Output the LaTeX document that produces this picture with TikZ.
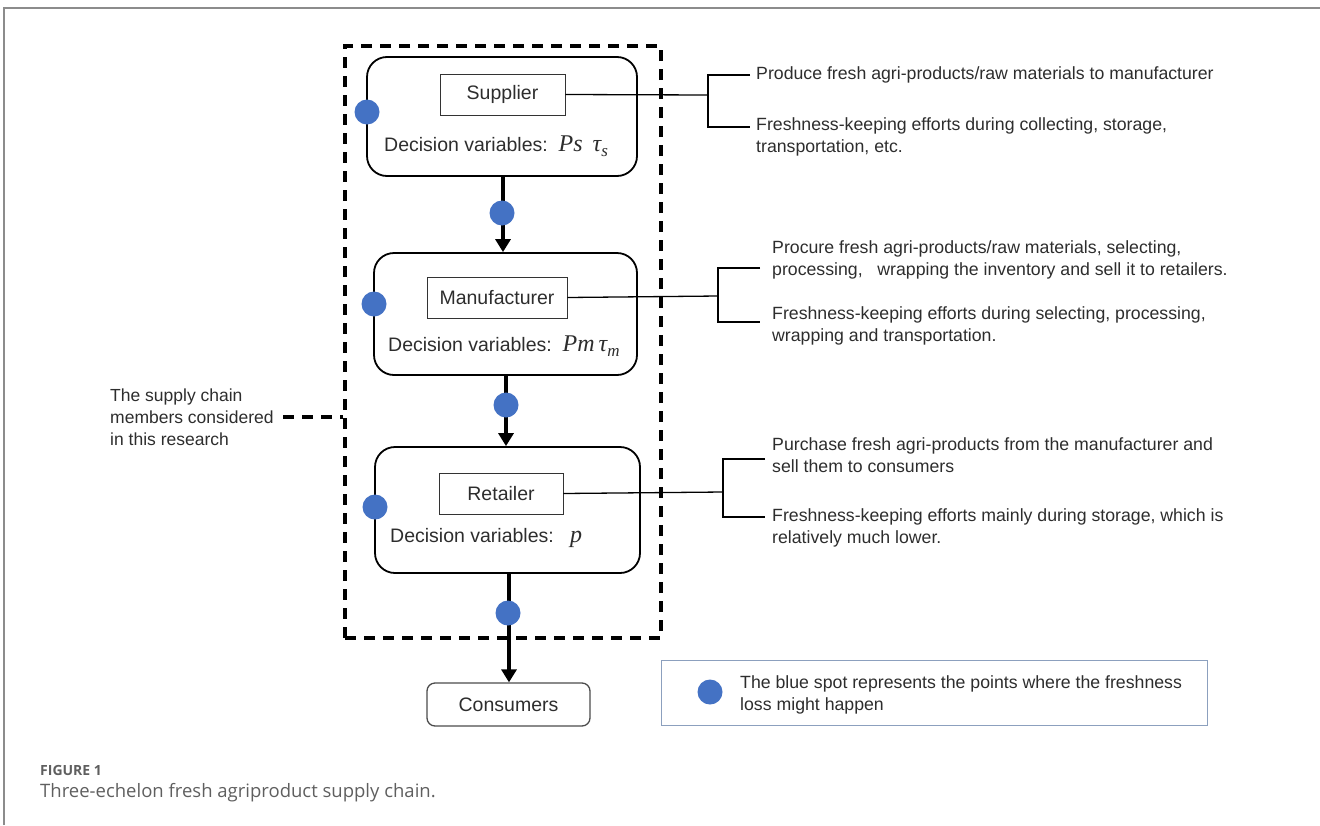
\documentclass[tikz,border=0pt]{standalone}
\usepackage{fontspec}
\setmainfont{Liberation Sans}
\newfontfamily\capfont{Open Sans}
\newfontfamily\vfnt{Liberation Serif}
\usetikzlibrary{arrows.meta,calc}
\definecolor{spot}{RGB}{68,114,196}
\definecolor{legline}{RGB}{140,160,190}
\definecolor{txt}{RGB}{45,45,45}
\definecolor{capgray}{RGB}{95,95,95}
\newcommand{\vv}[1]{{\vfnt\itshape\fontsize{24}{24}\selectfont #1}}
\newcommand{\vsub}[2]{{\vfnt\itshape\fontsize{24}{24}\selectfont #1}\raisebox{-5pt}{\vfnt\itshape\fontsize{17}{17}\selectfont #2}}
\begin{document}
\begin{tikzpicture}[x=1pt,y=-1pt,
  member/.style={draw, line width=1.8pt, rounded corners=20pt, inner sep=0pt},
  tag/.style={draw=black!80, line width=0.9pt, font=\fontsize{19.5}{22}\selectfont, text=txt, inner sep=0pt},
  dv/.style={anchor=west, font=\fontsize{19.5}{22}\selectfont, text=txt, inner sep=0pt},
  spotdot/.style={circle, fill=spot, minimum size=25pt, inner sep=0pt},
  flow/.style={line width=3.5pt, -{Triangle[length=13pt,width=15pt]}},
  note/.style={anchor=west, align=left, font=\fontsize{17.7}{22}\selectfont, text=txt, inner sep=0pt},
  brace/.style={line width=1.3pt},
  fence/.style={line width=3.2pt, dash pattern=on 11pt off 8pt}]
\useasboundingbox (0,0) rectangle (1320,825);
% frame
\draw[black!45, line width=1.5pt] (4,825) -- (4,8) -- (1320,8);

% dashed enclosure
\node[fence, draw, minimum width=316pt, minimum height=592pt, inner sep=0pt] (dbox) at (503,342) {};

% members
\node[member, minimum width=270pt, minimum height=119pt] (sup) at (502,116.5) {};
\node[member, minimum width=263pt, minimum height=122pt] (man) at (505.5,314) {};
\node[member, minimum width=265pt, minimum height=126pt] (ret) at (507.5,510) {};
\node[draw=black!70, line width=1.3pt, rounded corners=8pt, minimum width=163pt, minimum height=43pt,
      font=\fontsize{19.5}{22}\selectfont, text=txt, inner sep=0pt] (con) at (508.5,704.5) {Consumers};

% labels
\node[tag, minimum width=125pt, minimum height=41pt] (sl) at (502.5,94.5) {Supplier};
\node[tag, minimum width=140pt, minimum height=41pt] (ml) at (497,297.5) {Manufacturer};
\node[tag, minimum width=124pt, minimum height=41pt] (rl) at (501,493.5) {Retailer};

\node[dv] (sdv) at (384,146) {Decision variables:\ \ \vv{Ps}\hspace{10pt}\vsub{τ}{s}};
\node[dv] (mdv) at (388,346) {Decision variables:\ \ \vv{Pm}\hspace{4pt}\vsub{τ}{m}};
\node[dv] (rdv) at (390,538) {Decision variables:\ \ \ \vv{p}};

% flows
\draw[flow] (sup.south -| 503,0) -- (man.north -| 503,0);
\draw[flow] (man.south -| 506,0) -- (ret.north -| 506,0);
\draw[flow] (ret.south -| 509,0) -- (con.north -| 509,0);

% spots
\node[spotdot] (s1) at (367,112) {};
\node[spotdot] (s2) at (374,304) {};
\node[spotdot] (s3) at (375,507) {};
\node[spotdot] (f1) at (502,213) {};
\node[spotdot] (f2) at (506,405) {};
\node[spotdot] (f3) at (508,613) {};

% supplier notes
\coordinate (sj) at (708,95);
\coordinate (st) at (750,75);
\coordinate (sb) at (750,127);
\draw[brace] (sl.east) -- (sj);
\draw[brace] (st) -| (sj) |- (sb);
\node[note] (sn1) at (756,75) {Produce fresh agri-products/raw materials to manufacturer};
\node[note, anchor=north west] (sn2) at (756,117) {Freshness-keeping efforts during collecting, storage,\\transportation, etc.};

% manufacturer notes
\coordinate (mj) at (718,296);
\coordinate (mt) at (760,268);
\coordinate (mb) at (760,322);
\draw[brace] (ml.east) -- (mj);
\draw[brace] (mt) -| (mj) |- (mb);
\node[note, anchor=north west] (mn1) at (772,240) {Procure fresh agri-products/raw materials, selecting,\\processing,\ \ \ wrapping the inventory and sell it to retailers.};
\node[note, anchor=north west] (mn2) at (772,306) {Freshness-keeping efforts during selecting, processing,\\wrapping and transportation.};

% retailer notes
\coordinate (rj) at (723,492);
\coordinate (rt) at (765,459);
\coordinate (rb) at (765,517);
\draw[brace] (rl.east) -- (rj);
\draw[brace] (rt) -| (rj) |- (rb);
\node[note, anchor=north west] (rn1) at (772,437) {Purchase fresh agri-products from the manufacturer and\\sell them to consumers};
\node[note, anchor=north west] (rn2) at (772,508) {Freshness-keeping efforts mainly during storage, which is\\relatively much lower.};

% left annotation
\node[note, font=\fontsize{17.5}{22}\selectfont] (lt) at (110,417) {The supply chain\\members considered\\in this research};
\draw[fence] (283,417) coordinate (lc) -- (lc -| dbox.west);

% legend
\node[draw=legline, line width=1pt, minimum width=546pt, minimum height=65pt, inner sep=0pt] (leg) at (934,692.5) {};
\node[spotdot] (ls) at (710,692) {};
\node[note] (lg) at (740,695) {The blue spot represents the points where the freshness\\loss might happen};

% caption
\node[anchor=west, inner sep=0pt, text=capgray, font=\capfont\bfseries\fontsize{14}{16}\selectfont] (cap1) at (40,770) {FIGURE 1};
\node[anchor=west, inner sep=0pt, text=capgray, font=\capfont\fontsize{18.5}{22}\selectfont] (cap2) at (40,793) {Three-echelon fresh agriproduct supply chain.};
\end{tikzpicture}
\end{document}
